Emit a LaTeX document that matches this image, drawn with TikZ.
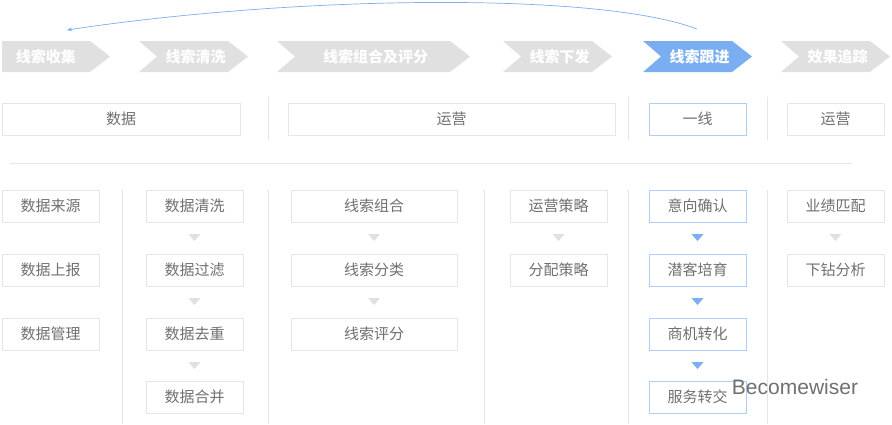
\documentclass[tikz,border=0pt]{standalone}
\usepackage{fontspec}
\newfontfamily\cjk{Noto Sans CJK SC}
\newfontfamily\wmf{Liberation Sans}
\usetikzlibrary{arrows.meta}
\definecolor{chev}{HTML}{E0E0E0}
\definecolor{bl}{HTML}{7BAEF0}
\definecolor{bd}{HTML}{E6E6E6}
\definecolor{tx}{HTML}{707070}
\begin{document}
\begin{tikzpicture}[x=1pt,y=-1pt,font=\cjk\fontsize{15}{17}\selectfont,
 box/.style={draw=bd,line width=0.8pt,text=tx,inner sep=0pt},
 bbox/.style={draw=bl!60,line width=0.8pt,text=tx,inner sep=0pt},
 sep/.style={draw=bd,line width=0.6pt},
 ct/.style={text=white,font=\cjk\fontsize{15}{17}\selectfont\bfseries}]
\useasboundingbox (0,0) rectangle (892,424);
\fill[white] (0,0) rectangle (892,424);
% chevrons
\fill[chev] (2,41) -- (90,41) -- (110,56.5) -- (90,72) -- (2,72) -- cycle;
\node[ct] (c1) at (46,56.5) {线索收集};
\foreach \a/\b/\t/\n/\c in {139/248/线索清洗/c2/chev,277/470/线索组合及评分/c3/chev,503/612/线索下发/c4/chev,643/752/线索跟进/c5/bl,781/890/效果追踪/c6/chev}{
 \fill[\c] (\a,41) -- (\b-20,41) -- (\b,56.5) -- (\b-20,72) -- (\a,72) -- (\a+18,56.5) -- cycle;
 \node[ct] (\n) at ({(\a+\b)/2+2},56.5) {\t};
}
\coordinate (as) at (697,29);
\coordinate (ae) at (67,30);
\draw[bl,line width=0.7pt,-{Stealth[length=5pt]}] (as) .. controls (600,-8) and (300,-5) .. (ae);
% row 2
\node[box,minimum width=238,minimum height=32] (r1) at (121,119) {数据};
\node[box,minimum width=327,minimum height=32] (r2) at (451.5,119) {运营};
\node[bbox,minimum width=97,minimum height=32] (r3) at (697.5,119) {一线};
\node[box,minimum width=97,minimum height=32] (r4) at (835.5,119) {运营};
\foreach \x in {268,628,767} \draw[sep] (\x,97) -- (\x,140);
\draw[sep] (10,163) -- (852,163);
\foreach \x in {122,268,484,628,767} \draw[sep] (\x,190) -- (\x,424);
% lower boxes
\foreach \x/\w/\c/\lst in {50.5/97/1/{数据来源,数据上报,数据管理},194.5/97/2/{数据清洗,数据过滤,数据去重,数据合并},374/166/3/{线索组合,线索分类,线索评分},558.5/97/4/{运营策略,分配策略},835.5/97/6/{业绩匹配,下钻分析}}{
 \foreach \t [count=\i] in \lst {
  \node[box,minimum width=\w,minimum height=32] (b\c\i) at (\x,{206+64*(\i-1)-(\i==4?1:0)}) {\t};
 }
}
\foreach \t [count=\i] in {意向确认,潜客培育,商机转化,服务转交}{
 \node[bbox,minimum width=97,minimum height=32] (b5\i) at (697.5,{206+64*(\i-1)-(\i==4?1:0)}) {\t};
}
% triangles
\foreach \x/\n/\c in {194.5/3/chev,374/2/chev,558.5/1/chev,835.5/1/chev,697.5/3/bl}{
 \foreach \k in {1,...,\n}{
  \fill[\c] ({\x-6},{234+64*(\k-1)}) -- ({\x+6},{234+64*(\k-1)}) -- (\x,{241+64*(\k-1)}) -- cycle;
 }
}
\node[text=tx,font=\wmf\fontsize{21}{23}\selectfont] (wm) at (795,387) {Becomewiser};
\end{tikzpicture}
\end{document}
